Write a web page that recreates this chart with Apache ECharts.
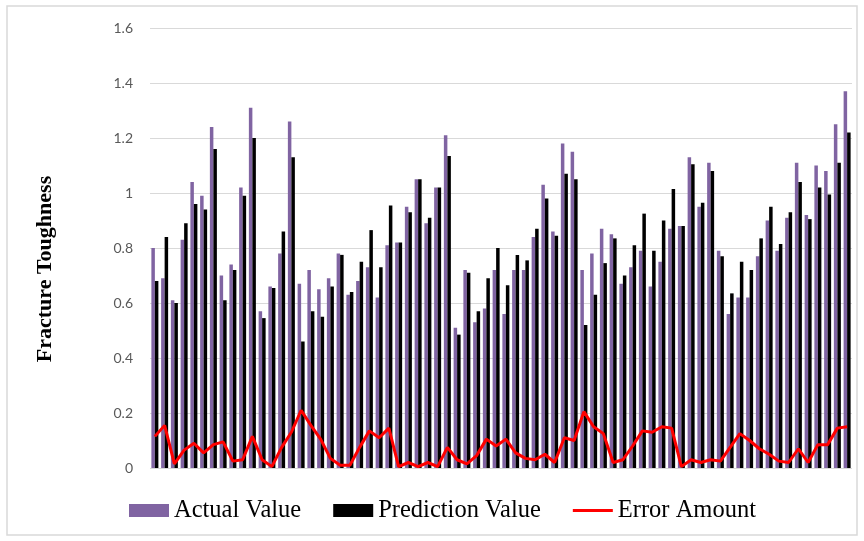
<!DOCTYPE html>
<html>
<head>
<meta charset="utf-8">
<script src="https://cdn.jsdelivr.net/npm/echarts@6/dist/echarts.min.js"></script>
<style>
  html, body { margin: 0; padding: 0; background: #fff; }
  #myCharts { width: 864px; height: 541px; }
</style>
</head>
<body>
<div id="myCharts"></div>
<script>
// 72 samples
const actualValue = [0.80, 0.69, 0.61, 0.83, 1.04, 0.99, 1.24, 0.70, 0.74, 1.02, 1.31, 0.57, 0.66, 0.78, 1.26, 0.67, 0.72, 0.65,
  0.69, 0.78, 0.63, 0.68, 0.73, 0.62, 0.81, 0.82, 0.95, 1.05, 0.89, 1.02, 1.21, 0.51, 0.72, 0.53, 0.58, 0.72,
  0.56, 0.72, 0.72, 0.84, 1.03, 0.86, 1.18, 1.15, 0.72, 0.78, 0.87, 0.85, 0.67, 0.73, 0.79, 0.66, 0.75, 0.87,
  0.88, 1.13, 0.95, 1.11, 0.79, 0.56, 0.62, 0.62, 0.77, 0.90, 0.79, 0.91, 1.11, 0.92, 1.10, 1.08, 1.25, 1.37];
const predictionValue = [0.68, 0.84, 0.60, 0.89, 0.96, 0.94, 1.16, 0.61, 0.72, 0.99, 1.20, 0.545, 0.655, 0.86, 1.13, 0.46, 0.57, 0.55,
  0.66, 0.775, 0.64, 0.75, 0.865, 0.73, 0.955, 0.82, 0.93, 1.05, 0.91, 1.02, 1.135, 0.485, 0.71, 0.57, 0.69, 0.80,
  0.665, 0.775, 0.755, 0.87, 0.98, 0.845, 1.07, 1.05, 0.52, 0.63, 0.745, 0.835, 0.70, 0.81, 0.925, 0.79, 0.90, 1.015,
  0.88, 1.105, 0.965, 1.08, 0.77, 0.635, 0.75, 0.72, 0.835, 0.95, 0.815, 0.93, 1.04, 0.905, 1.02, 0.995, 1.11, 1.22];
const errorAmount = [0.115, 0.155, 0.015, 0.065, 0.09, 0.055, 0.085, 0.095, 0.025, 0.03, 0.115, 0.03, 0.005, 0.075, 0.13, 0.21, 0.155, 0.105,
  0.035, 0.01, 0.01, 0.075, 0.135, 0.11, 0.145, 0.005, 0.02, 0.005, 0.02, 0.005, 0.075, 0.03, 0.015, 0.045, 0.105, 0.08,
  0.105, 0.055, 0.035, 0.03, 0.05, 0.02, 0.11, 0.10, 0.205, 0.15, 0.125, 0.02, 0.03, 0.08, 0.135, 0.13, 0.15, 0.145,
  0.005, 0.03, 0.02, 0.03, 0.025, 0.075, 0.125, 0.10, 0.07, 0.05, 0.025, 0.02, 0.07, 0.02, 0.085, 0.085, 0.145, 0.15];
const categories = actualValue.map((v, i) => String(i + 1));
const seriesNames = ["Actual Value", "Prediction Value", "Error Amount"];

const myCharts = echarts.init(document.getElementById("myCharts"));
let option = {
  animation: false,
  backgroundColor: "#fff",
  graphic: [
    {
      type: "rect",
      shape: { x: 7, y: 6, width: 850, height: 529 },
      style: { fill: "none", stroke: "#d9d9d9", lineWidth: 1.5 },
    },
    {
      // y axis title
      type: "text",
      x: 45,
      y: 269,
      rotation: Math.PI / 2,
      style: {
        text: "Fracture Toughness",
        fontFamily: "Liberation Serif",
        fontWeight: "bold",
        fontSize: 22,
        fill: "#000",
        align: "center",
        verticalAlign: "middle",
      },
    },
  ],
  legend: {
    left: 124,
    top: 493,
    itemWidth: 40,
    itemHeight: 13,
    itemGap: 32,
    textStyle: { fontFamily: "Liberation Serif", fontSize: 24.5, color: "#000" },
    data: [
      { name: seriesNames[0], icon: "rect" },
      { name: seriesNames[1], icon: "rect" },
      { name: seriesNames[2], icon: "path://M0,0H40V3H0Z" }, // plain line, no dot
    ],
  },
  grid: { left: 150, right: 12, top: 28, bottom: 73 },
  xAxis: {
    type: "category",
    data: categories,
    axisLine: { show: false },
    axisTick: { show: false },
    axisLabel: { show: false },
  },
  yAxis: {
    type: "value",
    min: 0,
    max: 1.6,
    interval: 0.2,
    axisLine: { show: false },
    axisTick: { show: false },
    axisLabel: { color: "#595959", fontFamily: "Lato", fontSize: 14, margin: 17 },
    splitLine: { lineStyle: { color: "#d9d9d9", width: 1 } },
  },
  series: [
    {
      name: seriesNames[0],
      type: "bar",
      barWidth: 3.5,
      barGap: "0%",
      itemStyle: { color: "#8064A2" },
      data: actualValue,
    },
    {
      name: seriesNames[1],
      type: "bar",
      barWidth: 3.5,
      itemStyle: { color: "#000" },
      data: predictionValue,
    },
    {
      name: seriesNames[2],
      type: "line",
      symbol: "none",
      lineStyle: { color: "#FF0000", width: 3 },
      itemStyle: { color: "#FF0000" },
      data: errorAmount,
    },
  ],
};
myCharts.setOption(option);
</script>
</body>
</html>
